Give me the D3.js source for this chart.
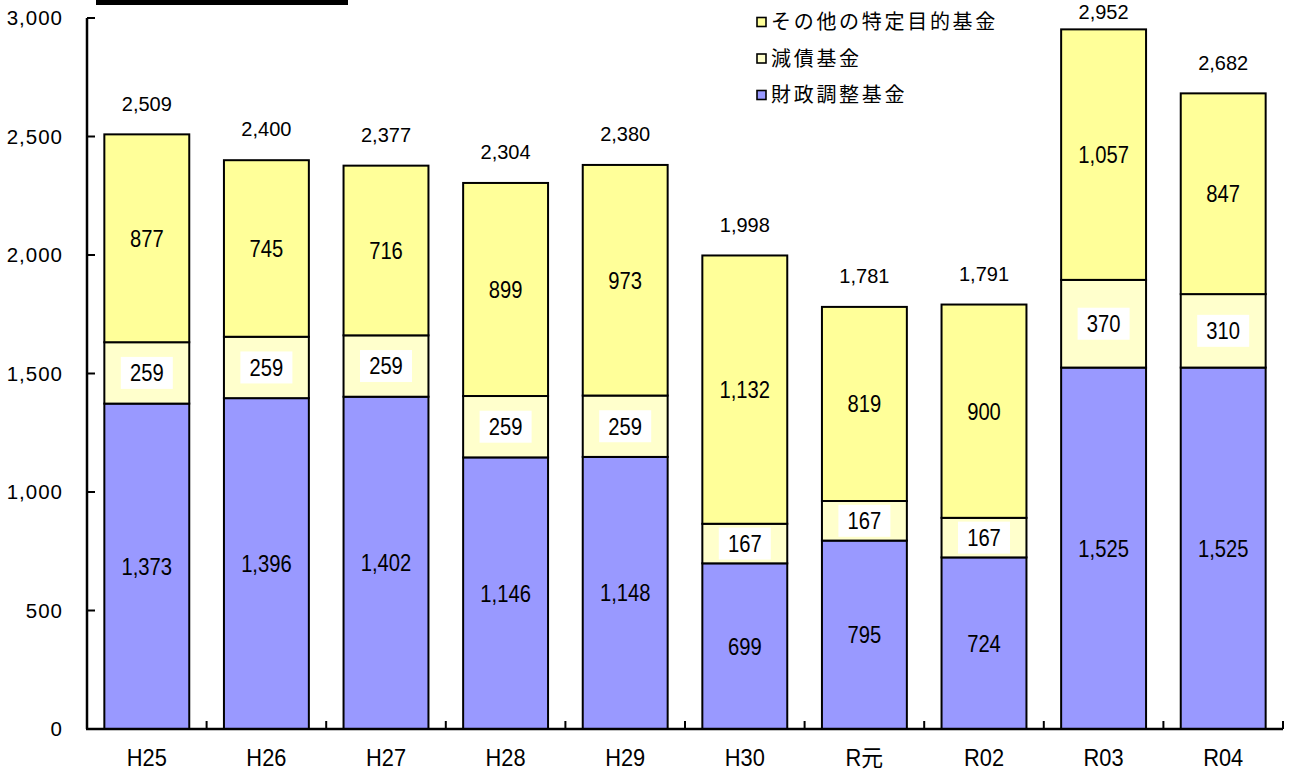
<!DOCTYPE html>
<html>
<head>
<meta charset="utf-8">
<script src="https://cdn.jsdelivr.net/npm/d3@7"></script>
<style>
  body { margin: 0; background: #fff; }
  text { font-family: "Liberation Sans", "Noto Sans CJK JP", sans-serif; fill: #000; }
  .jp { font-family: "Noto Sans CJK JP", sans-serif; }
</style>
</head>
<body>
<div id="chart"></div>
<script>
const years = ['H25', 'H26', 'H27', 'H28', 'H29', 'H30', 'R元', 'R02', 'R03', 'R04']
const zaisei = [1373, 1396, 1402, 1146, 1148, 699, 795, 724, 1525, 1525]
const gensai = [259, 259, 259, 259, 259, 167, 167, 167, 370, 310]
const sonota = [877, 745, 716, 899, 973, 1132, 819, 900, 1057, 847]
const yTicks = [0, 500, 1000, 1500, 2000, 2500, 3000]

const seriesNames = ['財政調整基金', '減債基金', 'その他の特定目的基金']
const colors = ['#9999ff', '#ffffcc', '#ffff99']

const width = 1291
const height = 772
const plot = { left: 87, right: 1283, top: 18, bottom: 729 }

const data = years.map((yr, i) => ({ year: yr, zaisei: zaisei[i], gensai: gensai[i], sonota: sonota[i] }))
const keys = ['zaisei', 'gensai', 'sonota']
const stacked = d3.stack().keys(keys)(data)

const x = d3.scaleBand()
  .domain(years)
  .range([plot.left, plot.right])
  .paddingInner(0.29)
  .paddingOuter(0.145)

const y = d3.scaleLinear()
  .domain([0, 3000])
  .range([plot.bottom, plot.top])

const fmt = d3.format(',')
const total = d => d.zaisei + d.gensai + d.sonota

const svg = d3.select('#chart').append('svg')
  .attr('width', width)
  .attr('height', height)

// black strip at the top (cropped title box)
svg.append('rect')
  .attr('x', 96).attr('y', 0)
  .attr('width', 252).attr('height', 5)
  .attr('fill', '#000')

// bars
stacked.forEach((layer, li) => {
  svg.append('g')
    .selectAll('rect')
    .data(layer).enter()
    .append('rect')
    .attr('x', d => x(d.data.year))
    .attr('y', d => y(d[1]))
    .attr('width', x.bandwidth())
    .attr('height', d => y(d[0]) - y(d[1]))
    .attr('fill', colors[li])
    .attr('stroke', '#000')
    .attr('stroke-width', 2)
})

// segment labels (tall, narrow digits)
stacked.forEach((layer, li) => {
  const g = svg.append('g')
  layer.forEach(d => {
    const cx = x(d.data.year) + x.bandwidth() / 2
    const cy = (y(d[0]) + y(d[1])) / 2
    if (li === 1) {
      g.append('rect')
        .attr('x', cx - 26).attr('y', cy - 16)
        .attr('width', 52).attr('height', 32)
        .attr('fill', '#fff')
    }
    g.append('text')
      .attr('transform', `translate(${cx},${cy}) scale(0.86,1)`)
      .attr('dy', '0.36em')
      .attr('text-anchor', 'middle')
      .attr('font-size', 23.5)
      .text(fmt(d[1] - d[0]))
  })
})

// totals
svg.append('g')
  .selectAll('text')
  .data(data).enter()
  .append('text')
  .attr('x', d => x(d.year) + x.bandwidth() / 2)
  .attr('y', d => Math.max(y(total(d)) - 31, 12))
  .attr('dy', '0.36em')
  .attr('text-anchor', 'middle')
  .attr('font-size', 20)
  .text(d => fmt(total(d)))

// y axis
const yAxis = svg.append('g')
yAxis.append('line')
  .attr('x1', plot.left).attr('x2', plot.left)
  .attr('y1', y(3000)).attr('y2', plot.bottom)
  .attr('stroke', '#000').attr('stroke-width', 2.5)
yAxis.selectAll('line.tk')
  .data(yTicks).enter()
  .append('line')
  .attr('class', 'tk')
  .attr('x1', plot.left).attr('x2', plot.left + 8)
  .attr('y1', d => y(d)).attr('y2', d => y(d))
  .attr('stroke', '#000').attr('stroke-width', 2)
yAxis.selectAll('text')
  .data(yTicks).enter()
  .append('text')
  .attr('x', 63)
  .attr('y', d => y(d))
  .attr('dy', '0.36em')
  .attr('text-anchor', 'end')
  .attr('font-size', 20.5)
  .attr('letter-spacing', 1)
  .text(d => fmt(d))

// x axis
const step = x.step()
const gap = (step - x.bandwidth()) / 2
const xAxis = svg.append('g')
xAxis.append('line')
  .attr('x1', plot.left - 1).attr('x2', plot.right)
  .attr('y1', plot.bottom).attr('y2', plot.bottom)
  .attr('stroke', '#000').attr('stroke-width', 2.5)
xAxis.selectAll('line.tk')
  .data(years).enter()
  .append('line')
  .attr('class', 'tk')
  .attr('x1', d => x(d) + x.bandwidth() + gap)
  .attr('x2', d => x(d) + x.bandwidth() + gap)
  .attr('y1', plot.bottom).attr('y2', plot.bottom - 8)
  .attr('stroke', '#000').attr('stroke-width', 2)
xAxis.selectAll('text')
  .data(years).enter()
  .append('text')
  .attr('transform', d => `translate(${x(d) + x.bandwidth() / 2},758) scale(0.95,1)`)
  .attr('dy', '0.36em')
  .attr('text-anchor', 'middle')
  .attr('font-size', 23)
  .text(d => d)

// legend
const legendItems = [2, 1, 0]
const legend = svg.append('g')
legendItems.forEach((si, i) => {
  const ly = 22 + i * 36.5
  legend.append('rect')
    .attr('x', 757).attr('y', ly - 4.5)
    .attr('width', 9).attr('height', 9)
    .attr('fill', colors[si])
    .attr('stroke', '#000').attr('stroke-width', 1.6)
  legend.append('text')
    .attr('class', 'jp')
    .attr('x', 771).attr('y', ly)
    .attr('dy', '0.36em')
    .attr('font-size', 20)
    .attr('letter-spacing', 2.7)
    .text(seriesNames[si])
})
</script>
</body>
</html>
